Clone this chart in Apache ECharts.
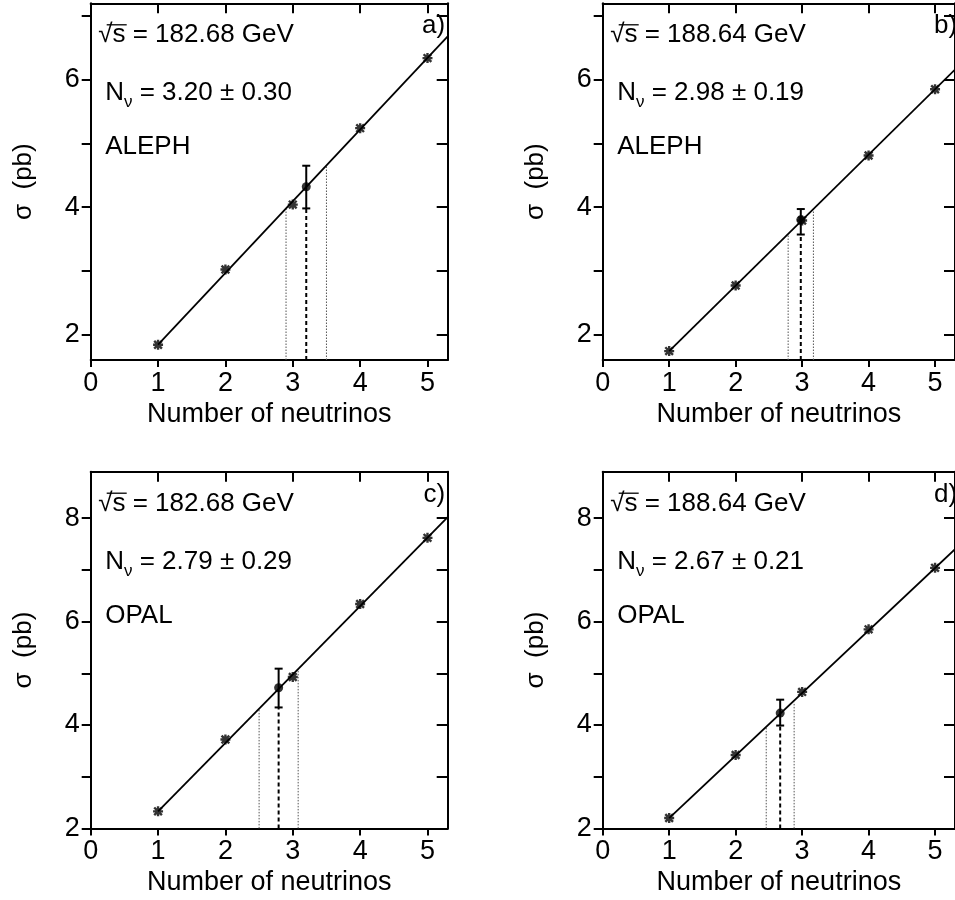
<!DOCTYPE html>
<html><head><meta charset="utf-8">
<script src="https://cdn.jsdelivr.net/npm/echarts@6/dist/echarts.min.js"></script>
<style>html,body{margin:0;padding:0;background:#fff}#c{width:955px;height:900px}</style>
</head><body><div id="c"></div>
<script>
// ---- data ----
const nu = [1, 2, 3, 4, 5];
const sigA = [1.84, 3.02, 4.04, 5.24, 6.34];
const sigB = [1.74, 2.77, 3.79, 4.81, 5.85];
const sigC = [2.33, 3.72, 4.93, 6.34, 7.62];
const sigD = [2.20, 3.42, 4.64, 5.85, 7.04];
const fitX = [1, 5.3];
const fitA = [1.84, 6.68];
const fitB = [1.74, 6.16];
const fitC = [2.33, 8.02];
const fitD = [2.20, 7.40];
const measX = [3.20, 2.98, 2.79, 2.67];
const measErr = [0.30, 0.19, 0.29, 0.21];
const measY = [4.32, 3.80, 4.72, 4.23];
const measYlo = [3.98, 3.57, 4.34, 3.99];
const measYhi = [4.65, 3.97, 5.09, 4.49];
const bandTopLo = [3.99, 3.58, 4.32, 3.96];
const bandTopHi = [4.64, 3.97, 5.06, 4.44];
const yMin = [1.6, 1.6, 2, 2];
const yMax = [7.2, 7.2, 8.9, 8.9];
const xTicks = [0, 1, 2, 3, 4, 5];
const yLabelsAleph = [2, 4, 6];
const yTicksAleph = [2, 3, 4, 5, 6, 7];
const yLabelsOpal = [2, 4, 6, 8];
const yTicksOpal = [2, 3, 4, 5, 6, 7, 8];
const energy = ['182.68', '188.64', '182.68', '188.64'];
const nuText = ['3.20 ± 0.30', '2.98 ± 0.19', '2.79 ± 0.29', '2.67 ± 0.21'];
const experiment = ['ALEPH', 'ALEPH', 'OPAL', 'OPAL'];
const tags = ['a)', 'b)', 'c)', 'd)'];
const xName = 'Number of neutrinos';
const yName = 'σ  (pb)';

const sigs = [sigA, sigB, sigC, sigD];
const fits = [fitA, fitB, fitC, fitD];
const yLabs = [yLabelsAleph, yLabelsAleph, yLabelsOpal, yLabelsOpal];
const yTks = [yTicksAleph, yTicksAleph, yTicksOpal, yTicksOpal];

// ---- layout ----
const FONT = 'Liberation Sans, Arial, Helvetica, sans-serif';
const gridLeft = [90.7, 602.7, 90.7, 602.7];
const gridTop = [3.3, 3.3, 471.7, 471.7];
const gridW = 357, gridH = 356.7;

const grids = [], xAxes = [], yAxes = [], series = [], graphics = [];
for (let i = 0; i < 4; i++) {
  grids.push({left: gridLeft[i], top: gridTop[i], width: gridW, height: gridH});
}
const line2 = {color: '#000', width: 2};
for (let i = 0; i < 4; i++) {
  xAxes.push({
    gridIndex: i, type: 'value', min: 0, max: 5.3, position: 'bottom',
    axisLine: {show: true, onZero: false, lineStyle: line2},
    axisTick: {show: true, inside: false, length: 7, lineStyle: line2, customValues: xTicks},
    axisLabel: {customValues: xTicks, fontSize: 27, color: '#000', margin: 10, fontFamily: FONT},
    splitLine: {show: false},
    name: xName, nameLocation: 'middle', nameGap: 41,
    nameTextStyle: {fontSize: 27, color: '#000', fontFamily: FONT}
  });
}
for (let i = 0; i < 4; i++) {
  xAxes.push({
    gridIndex: i, type: 'value', min: 0, max: 5.3, position: 'top',
    axisLine: {show: true, onZero: false, lineStyle: line2},
    axisTick: {show: true, inside: true, length: 10, lineStyle: line2, customValues: xTicks},
    axisLabel: {show: false}, splitLine: {show: false}
  });
}
for (let i = 0; i < 4; i++) {
  yAxes.push({
    gridIndex: i, type: 'value', min: yMin[i], max: yMax[i], position: 'left',
    axisLine: {show: true, onZero: false, lineStyle: line2},
    axisTick: {show: true, inside: false, length: 9, lineStyle: line2, customValues: yTks[i]},
    axisLabel: {customValues: yLabs[i], fontSize: 27, color: '#000', margin: 11, fontFamily: FONT},
    splitLine: {show: false},
    name: yName, nameLocation: 'middle', nameGap: 54, nameRotate: 90,
    nameTextStyle: {fontSize: 26, color: '#000', fontFamily: FONT}
  });
}
for (let i = 0; i < 4; i++) {
  yAxes.push({
    gridIndex: i, type: 'value', min: yMin[i], max: yMax[i], position: 'right',
    axisLine: {show: true, onZero: false, lineStyle: line2},
    axisTick: {show: true, inside: true, length: 11, lineStyle: line2, customValues: yTks[i]},
    axisLabel: {show: false}, splitLine: {show: false}
  });
}

const starPath = 'path://M-1,-1L1,1M1,-1L-1,1M0,-1.3L0,1.3M-1.3,0L1.3,0';

for (let i = 0; i < 4; i++) {
  const ax = {xAxisIndex: i, yAxisIndex: i};
  // dotted band lines
  series.push(Object.assign({type: 'line', data: [[measX[i] - measErr[i], yMin[i]], [measX[i] - measErr[i], bandTopLo[i]]],
    showSymbol: false, silent: true, z: 1, lineStyle: {color: '#555', width: 1, type: [1.5, 1.5]}}, ax));
  series.push(Object.assign({type: 'line', data: [[measX[i] + measErr[i], yMin[i]], [measX[i] + measErr[i], bandTopHi[i]]],
    showSymbol: false, silent: true, z: 1, lineStyle: {color: '#555', width: 1, type: [1.5, 1.5]}}, ax));
  // dashed line at measured value
  series.push(Object.assign({type: 'line', data: [[measX[i], yMin[i]], [measX[i], measYlo[i]]],
    showSymbol: false, silent: true, z: 2, lineStyle: {color: '#000', width: 2, type: [4, 3]}}, ax));
  // fit line
  series.push(Object.assign({type: 'line', data: fitX.map((x, k) => [x, fits[i][k]]),
    showSymbol: false, silent: true, z: 3, clip: true, lineStyle: {color: '#000', width: 1.8}}, ax));
  // MC points
  series.push(Object.assign({type: 'scatter', data: nu.map((x, k) => [x, sigs[i][k]]),
    symbol: starPath, symbolSize: 10, z: 4,
    itemStyle: {color: 'none', borderColor: '#000', borderWidth: 2.4}}, ax));
  // error bar
  series.push(Object.assign({type: 'custom', z: 5, data: [[measX[i], measYlo[i], measYhi[i]]],
    encode: {x: 0, y: [1, 2]},
    renderItem: function (params, api) {
      const x = api.value(0), lo = api.value(1), hi = api.value(2);
      const p1 = api.coord([x, hi]), p2 = api.coord([x, lo]);
      const w = 4, st = {stroke: '#000', lineWidth: 2};
      return {type: 'group', children: [
        {type: 'line', shape: {x1: p1[0], y1: p1[1], x2: p2[0], y2: p2[1]}, style: st},
        {type: 'line', shape: {x1: p1[0] - w, y1: p1[1], x2: p1[0] + w, y2: p1[1]}, style: st},
        {type: 'line', shape: {x1: p2[0] - w, y1: p2[1], x2: p2[0] + w, y2: p2[1]}, style: st}
      ]};
    }}, ax));
  // measured point
  series.push(Object.assign({type: 'scatter', data: [[measX[i], measY[i]]], symbol: 'circle', symbolSize: 9, z: 6,
    itemStyle: {color: '#000'}}, ax));

  // annotations
  const gx = gridLeft[i], gy = gridTop[i];
  graphics.push({type: 'text', x: gx + 7.5, y: gy + 32, z: 10,
    style: {text: '√s = ' + energy[i] + ' GeV', font: '26px ' + FONT, fill: '#000', verticalAlign: 'middle'}});
  graphics.push({type: 'line', z: 10, shape: {x1: gx + 16, y1: gy + 21.5, x2: gx + 36, y2: gy + 21.5},
    style: {stroke: '#000', lineWidth: 1.3}});
  graphics.push({type: 'text', x: gx + 14.5, y: gy + 90, z: 10,
    style: {text: '{n|N}{s|ν}{n| = ' + nuText[i] + '}', fill: '#000', verticalAlign: 'middle',
      rich: {n: {fontSize: 26, fontFamily: FONT, lineHeight: 36, verticalAlign: 'middle', fill: '#000'},
             s: {fontSize: 17, fontFamily: FONT, lineHeight: 17, verticalAlign: 'bottom', fill: '#000'}}}});
  graphics.push({type: 'text', x: gx + 14.5, y: gy + 144, z: 10,
    style: {text: experiment[i], font: '26px ' + FONT, fill: '#000', verticalAlign: 'middle'}});
  graphics.push({type: 'text', x: gx + gridW - 2.5, y: gy + 23, z: 10,
    style: {text: tags[i], font: '26px ' + FONT, fill: '#000', verticalAlign: 'middle', align: 'right'}});
}

const chart = echarts.init(document.getElementById('c'), null, {renderer: 'canvas'});
chart.setOption({
  animation: false,
  backgroundColor: '#fff',
  textStyle: {fontFamily: FONT},
  grid: grids, xAxis: xAxes, yAxis: yAxes, series: series, graphic: graphics
});
</script></body></html>
